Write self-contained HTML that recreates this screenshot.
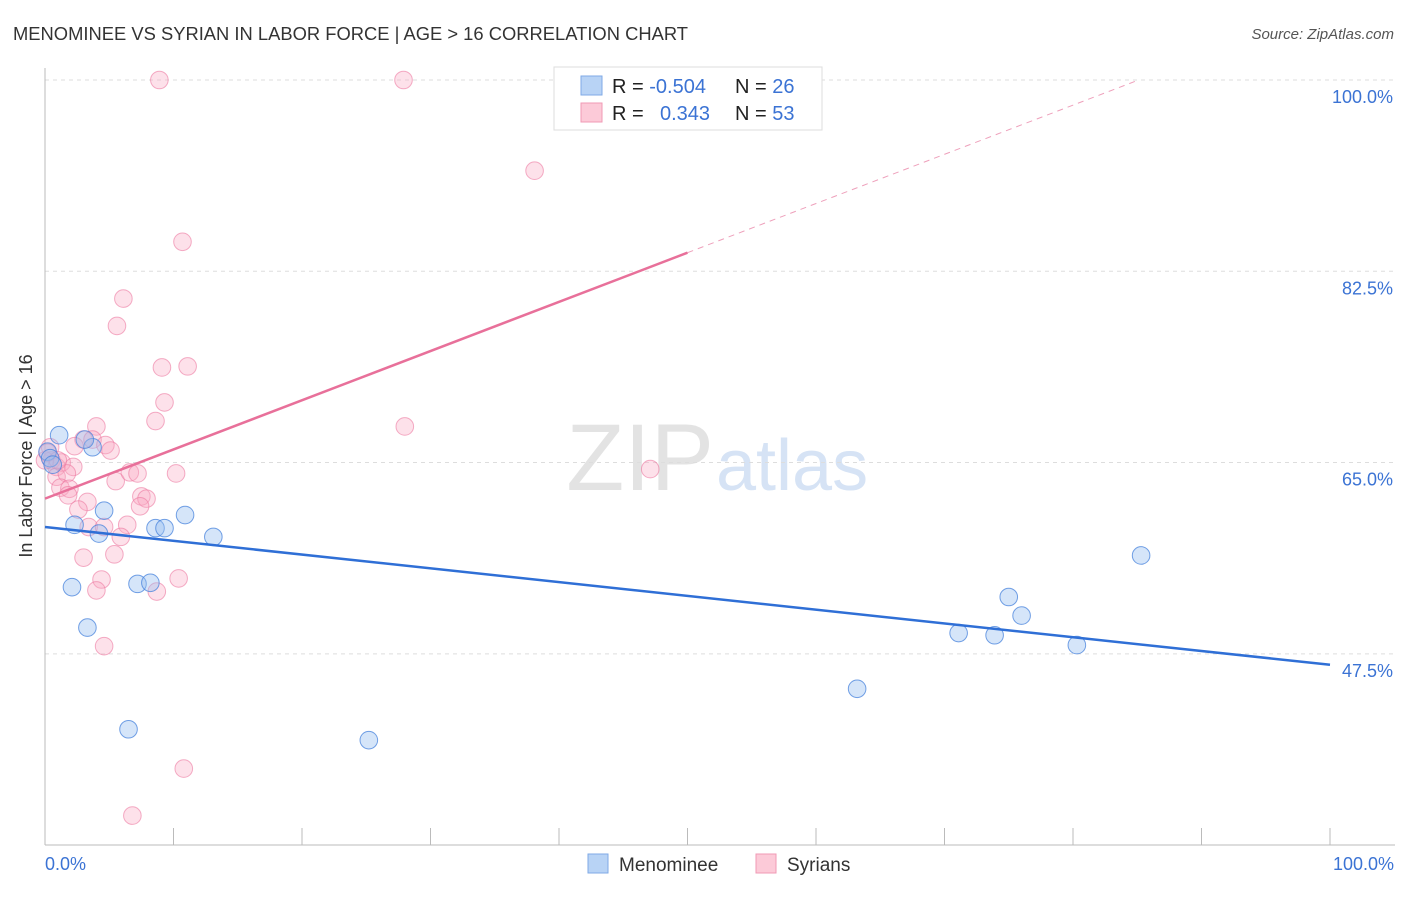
<!DOCTYPE html>
<html><head><meta charset="utf-8"><style>
body{margin:0;background:#fff;font-family:"Liberation Sans",sans-serif;}
svg text{font-family:"Liberation Sans",sans-serif;}
</style></head><body>
<svg id="chart" width="1406" height="892" xmlns="http://www.w3.org/2000/svg">
<text x="13" y="40" font-size="18" fill="#333" textLength="675" lengthAdjust="spacingAndGlyphs">MENOMINEE VS SYRIAN IN LABOR FORCE | AGE &gt; 16 CORRELATION CHART</text>
<text x="1394" y="39" font-size="15" fill="#555" font-style="italic" text-anchor="end">Source: ZipAtlas.com</text>
<text x="714" y="490" font-size="95" fill="#e3e3e3" text-anchor="end" font-family="Liberation Serif">ZIP</text>
<text x="716" y="490" font-size="72" fill="#d6e3f5">atlas</text>
<g id="grid"></g>
<line x1="45" y1="68" x2="45" y2="845" stroke="#bbb"/>
<line x1="45" y1="845" x2="1395" y2="845" stroke="#bbb"/>
<g id="xticks"></g>
<text x="32" y="456" font-size="18" fill="#333" transform="rotate(-90 32 456)" text-anchor="middle">In Labor Force | Age &gt; 16</text>
<text x="45" y="870" font-size="18" fill="#3b73d4">0.0%</text>
<text x="1394" y="870" font-size="18" fill="#3b73d4" text-anchor="end">100.0%</text>
<g id="points"></g>
<g id="lines"></g>
<g>
<rect x="554" y="67" width="268" height="63" fill="#fff" stroke="#ddd"/>
<rect x="581" y="76" width="21" height="19" fill="#b8d3f5" stroke="#7fa9e6"/>
<rect x="581" y="103" width="21" height="19" fill="#fccad8" stroke="#f09ab5"/>
<text x="612" y="93" font-size="20" fill="#222">R = <tspan fill="#3b73d4">-0.504</tspan></text>
<text x="735" y="93" font-size="20" fill="#222">N = <tspan fill="#3b73d4">26</tspan></text>
<text x="612" y="120" font-size="20" fill="#222">R = </text>
<text x="660" y="120" font-size="20" fill="#3b73d4">0.343</text>
<text x="735" y="120" font-size="20" fill="#222">N = <tspan fill="#3b73d4">53</tspan></text>
</g>
<g>
<rect x="588" y="854" width="20" height="19" fill="#b8d3f5" stroke="#7fa9e6"/>
<text x="619" y="871" font-size="19" fill="#333">Menominee</text>
<rect x="756" y="854" width="20" height="19" fill="#fccad8" stroke="#f09ab5"/>
<text x="787" y="871" font-size="19" fill="#333">Syrians</text>
</g>
</svg>
<script>
const yTicks=[100,82.5,65,47.5];
const yTickLabels=["100.0%","82.5%","65.0%","47.5%"];
const blueX=[1.1,0.2,0.4,2.3,3.7,3.1,4.6,4.2,2.1,3.3,7.2,8.2,8.6,9.3,10.9,13.1,6.5,25.2,63.2,71.1,73.9,75.0,76.0,80.3,85.3,0.6];
const blueY=[67.5,66.0,65.4,59.3,66.4,67.1,60.6,58.5,53.6,49.9,53.9,54.0,59.0,59.0,60.2,58.2,40.6,39.6,44.3,49.4,49.2,52.7,51.0,48.3,56.5,64.8];
const pinkX=[8.9,27.9,38.1,10.7,6.1,5.6,9.1,11.1,9.3,8.6,28.0,4.0,47.1,3.0,3.7,4.7,5.1,2.3,0.4,0.5,0.9,1.3,2.2,0.9,1.7,1.2,1.9,1.8,3.3,2.6,5.5,6.6,7.2,10.2,7.5,7.9,7.4,3.4,4.6,6.4,5.9,5.4,3.0,4.4,4.0,8.7,10.4,4.6,10.8,6.8,0.0,0.2,1.0];
const pinkY=[100,100,91.7,85.2,80.0,77.5,73.7,73.8,70.5,68.8,68.3,68.3,64.4,67.1,67.1,66.6,66.1,66.5,66.4,65.2,64.6,65.0,64.6,63.7,64.0,62.7,62.6,62.0,61.4,60.7,63.3,64.1,64.0,64.0,61.9,61.7,61.0,59.1,59.1,59.3,58.2,56.6,56.3,54.3,53.3,53.2,54.4,48.2,37.0,32.7,65.2,65.9,65.2];
const blueTrend=[59.1,46.5];
const pinkTrend=[61.7,106.7];
const NS="http://www.w3.org/2000/svg";
const X=v=>45+v*12.85;
const Y=v=>80+(100-v)*10.93;
function mk(t,a,p){const e=document.createElementNS(NS,t);for(const k in a)e.setAttribute(k,a[k]);p.appendChild(e);return e;}
const grid=document.getElementById('grid');
yTicks.forEach((t,i)=>{
 const l=mk('line',{x1:45,x2:1395,y1:Y(t),y2:Y(t),stroke:'#ddd','stroke-dasharray':'4,4'},grid);
 
 
 const tx=mk('text',{x:1393,y:Y(t)+23,'font-size':18,fill:'#3b73d4','text-anchor':'end'},grid);
 tx.textContent=yTickLabels[i];
 
 
});
const xt=document.getElementById('xticks');
for(let i=1;i<=10;i++){
 const l=mk('line',{x1:X(i*10),x2:X(i*10),y1:828,y2:845,stroke:'#bbb'},xt);
 
 
}
const pts=document.getElementById('points');
pinkX.forEach((x,i)=>{
 const c=mk('circle',{cx:X(x),cy:Y(pinkY[i]),r:8.8,fill:'rgba(248,170,195,0.35)',stroke:'rgba(236,120,160,0.6)','stroke-width':1},pts);
 
 
});
blueX.forEach((x,i)=>{
 const c=mk('circle',{cx:X(x),cy:Y(blueY[i]),r:8.8,fill:'rgba(150,190,240,0.4)',stroke:'rgba(70,130,220,0.75)','stroke-width':1},pts);
 
 
});
const ln=document.getElementById('lines');
const b=mk('line',{x1:X(0),y1:Y(blueTrend[0]),x2:X(100),y2:Y(blueTrend[1]),stroke:'#2f6fd6','stroke-width':2.5},ln);


const pv=x=>pinkTrend[0]+(pinkTrend[1]-pinkTrend[0])*x/100;
const p=mk('line',{x1:X(0),y1:Y(pv(0)),x2:X(50),y2:Y(pv(50)),stroke:'#e8709a','stroke-width':2.5},ln);


const xEnd=(100-pinkTrend[0])/(pinkTrend[1]-pinkTrend[0])*100;
const pd=mk('line',{x1:X(50),y1:Y(pv(50)),x2:X(xEnd),y2:Y(pv(xEnd)),stroke:'#eea0bb','stroke-width':1,'stroke-dasharray':'6,5'},ln);


</script>
</body></html>
